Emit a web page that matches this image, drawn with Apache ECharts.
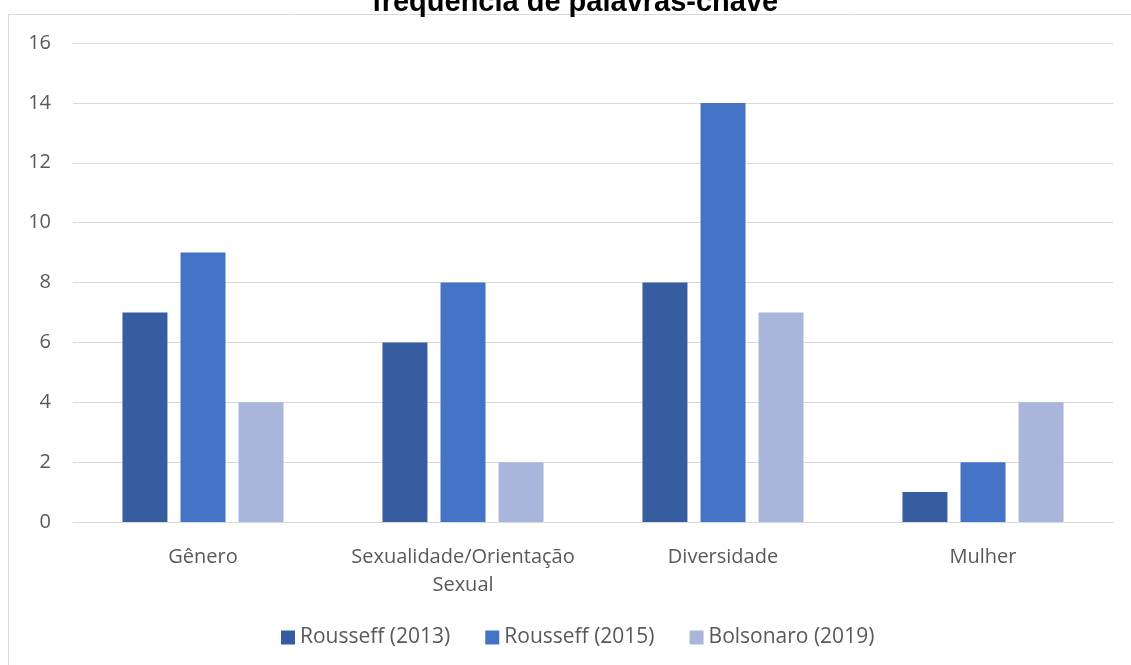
<!DOCTYPE html>
<html>
<head>
<meta charset="utf-8">
<script src="https://cdn.jsdelivr.net/npm/echarts@6/dist/echarts.min.js"></script>
<style>
  html, body { margin: 0; padding: 0; background: #fff; }
  #chart { width: 1131px; height: 665px; }
</style>
</head>
<body>
<div id="chart"></div>
<script>
// categorias e valores
const categorias = ['Gênero', 'Sexualidade/Orientação\nSexual', 'Diversidade', 'Mulher']
const rousseff2013 = [7, 6, 8, 1]
const rousseff2015 = [9, 8, 14, 2]
const bolsonaro2019 = [4, 2, 7, 4]

const fonte = '"Open Sans", "Noto Sans", sans-serif'

let chart = echarts.init(document.getElementById('chart'))
let option = {
  animation: false,
  title: {
    text: 'frequência de palavras-chave',
    left: 367,
    top: -17,
    textStyle: { fontFamily: 'Liberation Sans, Arial', fontWeight: 'bold', fontSize: 29, color: '#000' }
  },
  graphic: [{
    type: 'rect',
    shape: { x: 8.5, y: 14.5, width: 1140, height: 700 },
    style: { fill: null, stroke: '#d9d9d9', lineWidth: 1 },
    silent: true,
    z: -1
  }],
  grid: { left: 73, right: 18, top: 43, bottom: 143 },
  legend: {
    data: ['Rousseff (2013)', 'Rousseff (2015)', 'Bolsonaro (2019)'],
    top: 622,
    left: 276,
    icon: 'rect',
    itemWidth: 14,
    itemHeight: 14,
    itemGap: 35,
    textStyle: { fontFamily: fonte, fontSize: 21, color: '#595959' }
  },
  xAxis: {
    type: 'category',
    data: categorias,
    axisLine: { lineStyle: { color: '#d9d9d9', width: 1 } },
    axisTick: { show: false },
    axisLabel: { interval: 0, fontFamily: fonte, fontSize: 20, color: '#595959', margin: 21, lineHeight: 28 }
  },
  yAxis: {
    type: 'value',
    min: 0,
    max: 16,
    interval: 2,
    axisLine: { show: false },
    axisTick: { show: false },
    splitLine: { lineStyle: { color: '#d9d9d9', width: 1 } },
    axisLabel: { fontFamily: fonte, fontSize: 20, color: '#595959', margin: 22 }
  },
  series: [
    { name: 'Rousseff (2013)', type: 'bar', data: rousseff2013, barWidth: 45, barGap: '29%', itemStyle: { color: '#355DA0' } },
    { name: 'Rousseff (2015)', type: 'bar', data: rousseff2015, barWidth: 45, barGap: '29%', itemStyle: { color: '#4472C4' } },
    { name: 'Bolsonaro (2019)', type: 'bar', data: bolsonaro2019, barWidth: 45, barGap: '29%', itemStyle: { color: '#A9B6DB' } }
  ]
}
chart.setOption(option)
</script>
</body>
</html>
